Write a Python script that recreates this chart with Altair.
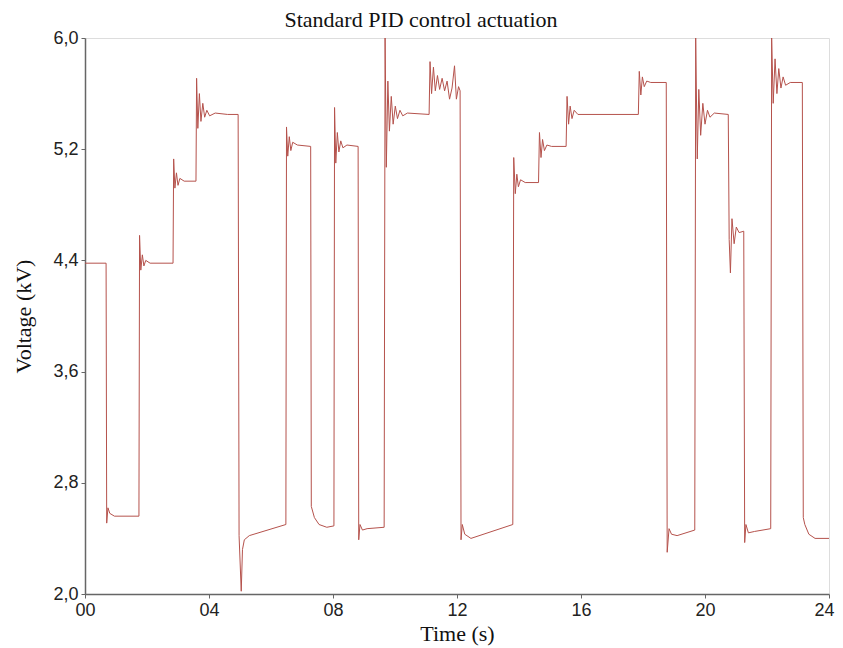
import altair as alt
import pandas as pd

# Time (s) and voltage (kV)
time_s = [
    0.00, 0.68, 0.70, 0.74, 0.80, 0.95, 1.74,
    1.76, 1.80, 1.85, 1.90, 1.96, 2.10, 2.84,
    2.86, 2.90, 2.95, 3.00, 3.06, 3.20, 3.58,
    3.60, 3.64, 3.69, 3.74, 3.80, 3.86, 3.93, 4.02, 4.20, 4.60, 4.94,
    4.97, 5.04, 5.08, 5.14, 5.30, 6.48,
    6.50, 6.54, 6.59, 6.64, 6.70, 6.85, 7.28,
    7.30, 7.40, 7.55, 7.80, 8.03,
    8.05, 8.09, 8.14, 8.19, 8.25, 8.32, 8.45, 8.81,
    8.83, 8.87, 8.95, 9.10, 9.65,
    9.68, 9.72, 9.77, 9.82, 9.88, 9.94, 10.01, 10.08, 10.16, 10.25, 10.40, 11.10,
    11.13, 11.18, 11.24, 11.30, 11.37, 11.44, 11.52, 11.60, 11.68, 11.76, 11.84, 11.92, 11.98, 12.05, 12.10,
    12.13, 12.17, 12.25, 12.45, 13.80,
    13.83, 13.88, 13.93, 13.98, 14.05, 14.20, 14.63,
    14.66, 14.71, 14.76, 14.82, 14.90, 15.05, 15.52,
    15.55, 15.60, 15.65, 15.71, 15.78, 15.90, 17.85,
    17.88, 17.93, 17.98, 18.04, 18.12, 18.25, 18.75,
    18.78, 18.84, 18.92, 19.10, 19.67,
    19.70, 19.75, 19.80, 19.86, 19.93, 20.00, 20.08, 20.16, 20.30, 20.75,
    20.78, 20.82, 20.87, 20.94, 21.01, 21.10, 21.25,
    21.28, 21.32, 21.40, 21.60, 22.12,
    22.15, 22.20, 22.26, 22.32, 22.38, 22.45, 22.52, 22.60, 22.75, 23.14,
    23.17, 23.22, 23.35, 23.55, 24.00,
]
voltage_kv = [
    4.38, 4.38, 2.51, 2.62, 2.58, 2.56, 2.56,
    4.58, 4.33, 4.44, 4.36, 4.40, 4.38, 4.38,
    5.13, 4.92, 5.03, 4.94, 4.99, 4.97, 4.97,
    5.71, 5.35, 5.60, 5.40, 5.53, 5.43, 5.48, 5.44, 5.46, 5.45, 5.45,
    2.42, 2.02, 2.32, 2.39, 2.42, 2.50,
    5.36, 5.15, 5.29, 5.19, 5.25, 5.23, 5.22,
    2.63, 2.55, 2.50, 2.48, 2.49,
    5.50, 5.10, 5.32, 5.18, 5.26, 5.21, 5.23, 5.22,
    2.39, 2.50, 2.46, 2.47, 2.48,
    6.00, 5.07, 5.69, 5.33, 5.58, 5.38, 5.51, 5.42, 5.48, 5.44, 5.46, 5.45,
    5.83, 5.60, 5.79, 5.62, 5.73, 5.63, 5.71, 5.62, 5.69, 5.56, 5.64, 5.80, 5.56, 5.65, 5.62,
    2.39, 2.50, 2.43, 2.40, 2.50,
    5.14, 4.88, 5.02, 4.93, 4.98, 4.96, 4.96,
    5.32, 5.14, 5.27, 5.19, 5.23, 5.22, 5.22,
    5.58, 5.38, 5.51, 5.42, 5.48, 5.45, 5.45,
    5.76, 5.59, 5.72, 5.65, 5.69, 5.68, 5.68,
    2.30, 2.47, 2.43, 2.42, 2.46,
    6.00, 5.13, 5.63, 5.30, 5.53, 5.38, 5.48, 5.43, 5.46, 5.45,
    4.55, 4.31, 4.70, 4.52, 4.64, 4.60, 4.61,
    2.37, 2.50, 2.44, 2.45, 2.47,
    6.00, 5.53, 5.85, 5.60, 5.78, 5.64, 5.72, 5.66, 5.68, 5.68,
    2.55, 2.50, 2.43, 2.40, 2.40,
]

x_ticks = [0, 4, 8, 12, 16, 20, 24]
y_ticks = [2.0, 2.8, 3.6, 4.4, 5.2, 6.0]

df = pd.DataFrame({"t": time_s, "v": voltage_kv, "order": list(range(len(time_s)))})

serif = "Liberation Serif"
sans = "Liberation Sans"

chart = (
    alt.Chart(df)
    .mark_line(color="#b5524c", strokeWidth=1, clip=True)
    .encode(
        x=alt.X(
            "t:Q",
            scale=alt.Scale(domain=[0, 24], nice=False, zero=False),
            axis=alt.Axis(
                values=x_ticks,
                labelExpr="datum.value < 10 ? '0' + datum.value : '' + datum.value",
                labelFlush=False,
                labelOverlap=False,
                labelAlign=alt.ExprRef(expr="datum.value == 24 ? 'right' : 'center'"),
                labelOffset=alt.ExprRef(expr="datum.value == 24 ? 5 : 0"),
                title="Time (s)",
                titleFont=serif,
                titleFontSize=22,
                titleFontWeight="normal",
                titleColor="#111",
                titleX=372,
                titleY=39,
                titleBaseline="middle",
                labelFont=sans,
                labelFontSize=18,
                labelColor="#222",
                labelPadding=3,
                tickSize=4,
                tickColor="#666",
                domainColor="#666",
                domainWidth=1.5,
                grid=False,
            ),
        ),
        y=alt.Y(
            "v:Q",
            scale=alt.Scale(domain=[2, 6], nice=False, zero=False),
            axis=alt.Axis(
                values=y_ticks,
                labelExpr="replace(format(datum.value, '.1f'), '.', ',')",
                labelFlush=False,
                labelOverlap=False,
                title="Voltage (kV)",
                titleFont=serif,
                titleFontSize=22,
                titleFontWeight="normal",
                titleColor="#111",
                titleX=-62,
                titleY=278,
                titleBaseline="middle",
                titleAngle=-90,
                labelFont=sans,
                labelFontSize=18,
                labelColor="#222",
                labelPadding=3,
                tickSize=4,
                tickColor="#666",
                domainColor="#666",
                domainWidth=1.5,
                grid=False,
            ),
        ),
        order="order:Q",
    )
    .properties(
        width=744,
        height=556,
        autosize=alt.AutoSizeParams(type="none"),
        padding={"left": 77, "top": 30, "right": 6, "bottom": 56},
        title=alt.TitleParams(
            "Standard PID control actuation",
            font=serif,
            fontSize=22,
            fontWeight="normal",
            color="#111",
            anchor="middle",
            dx=-36,
            dy=3,
            offset=0,
        ),
    )
    .configure_view(stroke="#666", strokeWidth=1.5)
    .configure(background="white")
)

chart.save("out.html", embed_options={"renderer": "svg", "actions": False})
